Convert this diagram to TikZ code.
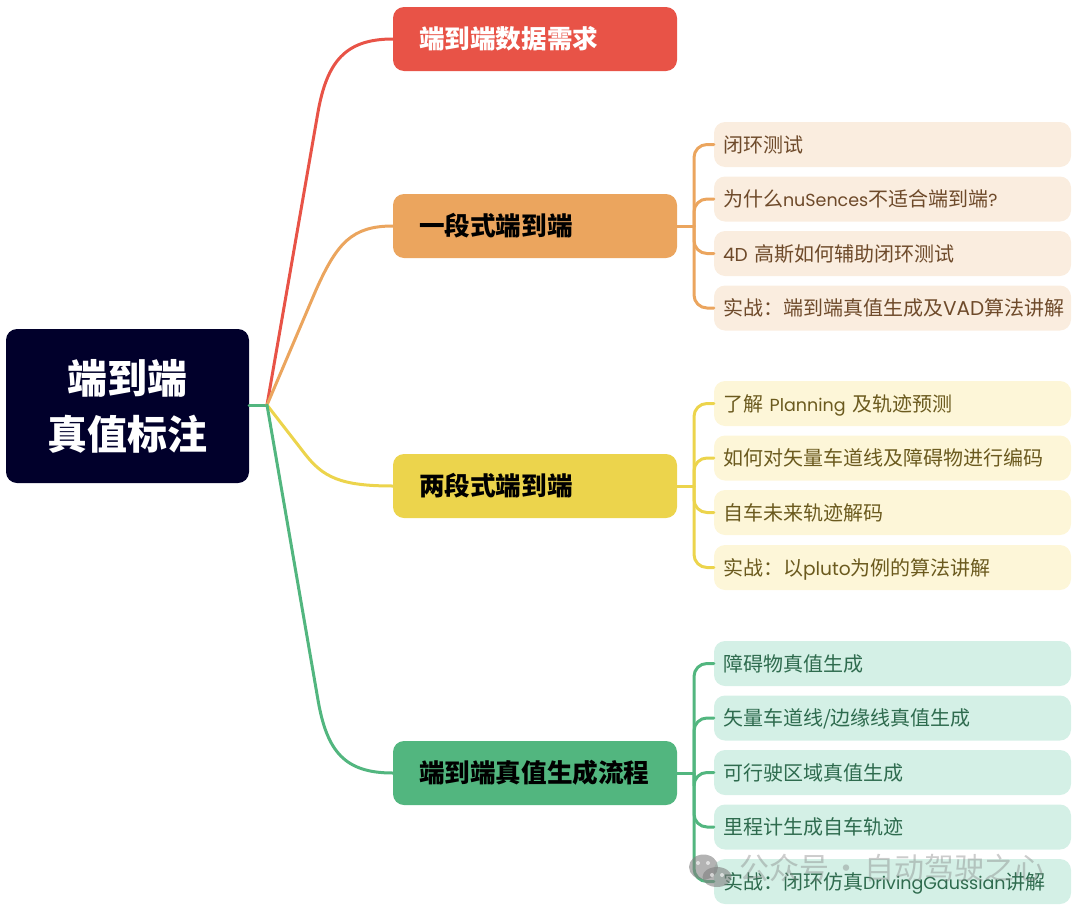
\documentclass[tikz,border=0pt]{standalone}
\usepackage{fontspec}
\setmainfont{Noto Sans CJK SC}
\newfontfamily\lat[Scale=0.93]{Poppins}
\newfontfamily\latn[Scale=0.875]{Poppins}
\newfontfamily\latw{Poppins}
\newcommand{\la}[1]{{\lat #1}}
\newcommand{\lan}[1]{{\latn #1}}
\newcommand{\law}[1]{{\latw #1}}
\definecolor{cRoot}{HTML}{01002B}
\definecolor{cRed}{HTML}{E85347}
\definecolor{cOra}{HTML}{EBA55E}
\definecolor{cYel}{HTML}{ECD44C}
\definecolor{cGre}{HTML}{52B67F}
\definecolor{fOra}{HTML}{FAEDDF}
\definecolor{fYel}{HTML}{FDF6D8}
\definecolor{fGre}{HTML}{D4F0E6}
\definecolor{tOra}{HTML}{6E4A2A}
\definecolor{tYel}{HTML}{6B5A1E}
\definecolor{tGre}{HTML}{2E6B4E}
\tikzset{
  x=1pt,y=-1pt,
  rootbox/.style={rectangle,rounded corners=11pt,fill=cRoot,text=white,minimum width=243pt,minimum height=154pt,align=center,font=\fontsize{40}{56}\selectfont\bfseries,inner sep=0pt},
  mainbox/.style={rectangle,rounded corners=11pt,minimum width=284pt,minimum height=64pt,text width=232pt,inner xsep=26pt,inner ysep=0pt,align=left,text height=22.5pt,text depth=2.6pt,font=\fontsize{25.6}{30}\selectfont\bfseries},
  subbox/.style={rectangle,rounded corners=11pt,minimum width=357pt,minimum height=45pt,text width=339pt,inner xsep=9pt,inner ysep=0pt,align=left,text height=18pt,text depth=2.8pt,font=\fontsize{20}{26}\selectfont},
  subO/.style={subbox,fill=fOra,text=tOra},
  subY/.style={subbox,fill=fYel,text=tYel},
  subG/.style={subbox,fill=fGre,text=tGre},
  wire/.style={line width=3pt,line cap=round,line join=round},
  elbow/.style={wire,rounded corners=13pt},
}
\begin{document}
\begin{tikzpicture}
\useasboundingbox (0,0) rectangle (1080,916);
\node[rootbox] (root) at (127.5,406) {端到端\\真值标注};
\node[mainbox,fill=cRed,text=white] (m1) at (535,39) {端到端数据需求};
\node[mainbox,fill=cOra,text=black] (m2) at (535,226) {一段式端到端};
\node[mainbox,fill=cYel,text=black] (m3) at (535,486) {两段式端到端};
\node[mainbox,fill=cGre,text=black] (m4) at (535,773) {端到端真值生成流程};
\node[subO] (a1) at (892.5,144.5) {闭环测试};
\node[subO] (a2) at (892.5,199) {为什么\lan{nuSences}不适合端到端\lan{?}};
\node[subO] (a3) at (892.5,253.5) {\la{4D }高斯如何辅助闭环测试};
\node[subO] (a4) at (892.5,308) {实战：端到端真值生成及\law{VAD}算法讲解};
\node[subY] (b1) at (892.5,403.5) {了解\lan{ Planning }及轨迹预测};
\node[subY] (b2) at (892.5,458) {如何对矢量车道线及障碍物进行编码};
\node[subY] (b3) at (892.5,512.5) {自车未来轨迹解码};
\node[subY] (b4) at (892.5,567.5) {实战：以\la{pluto}为例的算法讲解};
\node[subG] (c1) at (892.5,663.5) {障碍物真值生成};
\node[subG] (c2) at (892.5,718) {矢量车道线/边缘线真值生成};
\node[subG] (c3) at (892.5,772.5) {可行驶区域真值生成};
\node[subG] (c4) at (892.5,827) {里程计生成自车轨迹};
\node[subG] (c5) at (892.5,881.5) {实战：闭环仿真\lan{DrivingGaussian}讲解};
\coordinate (hub) at (267,405);
\coordinate (ta) at (694,226);
\coordinate (tb) at (694,486);
\coordinate (tc) at (694,773);
\draw[wire,cGre] (root.east |- hub) -- (hub);
\draw[wire,cRed] (hub) -- (318,112) .. controls (327,62) and (345,39) .. (m1.west);
\draw[wire,cOra] (hub) -- (316,290) .. controls (337,243) and (352,226) .. (m2.west);
\draw[wire,cYel] (hub) -- (305,454) .. controls (323,477) and (340,486) .. (m3.west);
\draw[wire,cGre] (hub) -- (318,700) .. controls (327,752) and (345,773) .. (m4.west);
\draw[wire,cOra] (m2.east) -- (ta);
\draw[wire,cYel] (m3.east) -- (tb);
\draw[wire,cGre] (m4.east) -- (tc);
\foreach \n in {a1,a2,a3,a4} \draw[elbow,cOra] (ta) |- (\n.west);
\foreach \n in {b1,b2,b3,b4} \draw[elbow,cYel] (tb) |- (\n.west);
\foreach \n in {c1,c2,c3,c4,c5} \draw[elbow,cGre] (tc) |- (\n.west);
% watermark
\begin{scope}[opacity=.6]
\fill[gray] (703.5,867) ellipse (14.5pt and 12.5pt);
\fill[gray] (717,877) ellipse (14.5pt and 10pt);
\foreach \p/\q in {698/863,708/863,712/875,722/875} \fill[white] (\p,\q) circle (2pt);
\end{scope}
\node[opacity=.4,text=gray,font=\fontsize{30}{34}\selectfont,anchor=west,inner sep=0pt] (wm) at (739,868) {公众号\hspace{2.5pt}·\hspace{2.5pt}自动驾驶之心};
\end{tikzpicture}
\end{document}
